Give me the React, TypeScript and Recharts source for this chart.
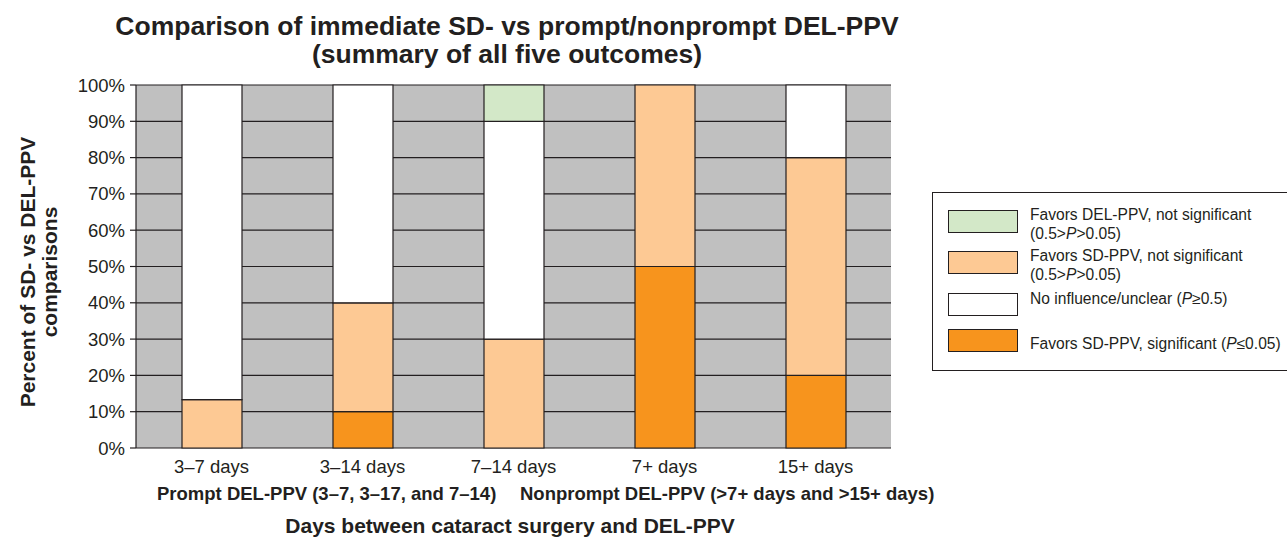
import { Bar, BarChart, CartesianGrid, XAxis, YAxis } from "recharts";

const categories = ["3–7 days", "3–14 days", "7–14 days", "7+ days", "15+ days"];
const favorsSdSig = [0, 10, 0, 50, 20];
const favorsSdNs = [13.3, 30, 30, 50, 60];
const noInfluence = [86.7, 60, 60, 0, 20];
const favorsDelNs = [0, 0, 10, 0, 0];
const yTicks = [0, 10, 20, 30, 40, 50, 60, 70, 80, 90, 100];
const edgeTicks = [0, 1, 2, 3, 4, 5];

const rows = categories.map((name, i) => ({
  name,
  sig: favorsSdSig[i],
  sdNs: favorsSdNs[i],
  none: noInfluence[i],
  delNs: favorsDelNs[i],
}));

const INK = "#231f20";
const FONT = "'Liberation Sans', Arial, Helvetica, sans-serif";

// stack order, bottom to top
const SERIES = [
  {
    key: "sig",
    fill: "#f7941d",
    label: <>Favors SD-PPV, significant (<i>P</i>≤0.05)</>,
  },
  {
    key: "sdNs",
    fill: "#fdc994",
    label: (
      <>
        Favors SD-PPV, not significant
        <br />
        (0.5&gt;<i>P</i>&gt;0.05)
      </>
    ),
  },
  {
    key: "none",
    fill: "#ffffff",
    label: <>No influence/unclear (<i>P</i>≥0.5)</>,
  },
  {
    key: "delNs",
    fill: "#d3e8c8",
    label: (
      <>
        Favors DEL-PPV, not significant
        <br />
        (0.5&gt;<i>P</i>&gt;0.05)
      </>
    ),
  },
];

// legend order in the box (top to bottom) with swatch / text offsets
const LEGEND_ROWS = [
  { key: "delNs", swatch: 17, text: 12 },
  { key: "sdNs", swatch: 58, text: 53 },
  { key: "none", swatch: 100, text: 96 },
  { key: "sig", swatch: 136, text: 141 },
];

function ChartLegend() {
  return (
    <div
      style={{
        position: "absolute",
        left: 932,
        top: 192,
        width: 362,
        height: 179,
        boxSizing: "border-box",
        border: `1.5px solid ${INK}`,
        background: "#fff",
        color: INK,
        fontFamily: FONT,
        fontSize: 15.6,
        lineHeight: "19px",
      }}
    >
      {LEGEND_ROWS.map((r) => {
        const s = SERIES.find((x) => x.key === r.key)!;
        return (
          <div key={r.key}>
            <span
              style={{
                position: "absolute",
                left: 15,
                top: r.swatch,
                width: 70,
                height: 23,
                boxSizing: "border-box",
                border: `1.5px solid ${INK}`,
                background: s.fill,
              }}
            />
            <span style={{ position: "absolute", left: 97, top: r.text, whiteSpace: "nowrap" }}>{s.label}</span>
          </div>
        );
      })}
    </div>
  );
}

const TICK = { fill: INK, fontSize: 18.5, fontFamily: FONT };

export default function App() {
  return (
    <div
      style={{
        position: "absolute",
        left: 0,
        top: 0,
        width: 1287,
        height: 538,
        overflow: "hidden",
        background: "#fff",
        fontFamily: FONT,
      }}
    >
      <BarChart
        width={1287}
        height={538}
        data={rows}
        margin={{ top: 85, right: 396, bottom: 0, left: 0 }}
        barSize={60}
        style={{ fontFamily: FONT }}
      >
        <CartesianGrid vertical={false} stroke={INK} strokeWidth={1.2} fill="#c0c0c0" fillOpacity={1} />
        <XAxis
          xAxisId="edges"
          type="number"
          domain={[0, 5]}
          ticks={edgeTicks}
          tickFormatter={() => ""}
          height={0}
          axisLine={{ stroke: INK, strokeWidth: 1.2 }}
          tickLine={{ stroke: INK, strokeWidth: 1.2 }}
          tickSize={6}
        />
        <XAxis
          xAxisId="cat"
          dataKey="name"
          height={90}
          axisLine={false}
          tickLine={false}
          tickSize={6}
          tickMargin={6}
          tick={TICK}
          interval={0}
        />
        <YAxis
          domain={[0, 100]}
          ticks={yTicks}
          tickFormatter={(v) => `${v}%`}
          width={136}
          tick={TICK}
          tickSize={6}
          tickMargin={5}
          axisLine={{ stroke: INK, strokeWidth: 1.2 }}
          tickLine={{ stroke: INK, strokeWidth: 1.2 }}
        />
        {SERIES.map((s) => (
          <Bar
            key={s.key}
            xAxisId="cat"
            dataKey={s.key}
            stackId="a"
            fill={s.fill}
            stroke={INK}
            strokeWidth={1.2}
            isAnimationActive={false}
          />
        ))}

        <text x={507} y={35} textAnchor="middle" fontSize={26.5} fontWeight="bold" fill={INK}>
          Comparison of immediate SD- vs prompt/nonprompt DEL-PPV
        </text>
        <text x={507} y={63} textAnchor="middle" fontSize={26.5} fontWeight="bold" fill={INK}>
          (summary of all five outcomes)
        </text>
        <text transform="translate(35,272) rotate(-90)" textAnchor="middle" fontSize={21} fontWeight="bold" fill={INK}>
          Percent of SD- vs DEL-PPV
        </text>
        <text transform="translate(57,272) rotate(-90)" textAnchor="middle" fontSize={21} fontWeight="bold" fill={INK}>
          comparisons
        </text>
        <text x={157} y={500} fontSize={18.5} fontWeight="bold" fill={INK}>
          Prompt DEL-PPV (3–7, 3–17, and 7–14)
        </text>
        <text x={520} y={500} fontSize={18.5} fontWeight="bold" fill={INK}>
          Nonprompt DEL-PPV (&gt;7+ days and &gt;15+ days)
        </text>
        <text x={510} y={533} textAnchor="middle" fontSize={21} fontWeight="bold" fill={INK}>
          Days between cataract surgery and DEL-PPV
        </text>
      </BarChart>
      <ChartLegend />
    </div>
  );
}
